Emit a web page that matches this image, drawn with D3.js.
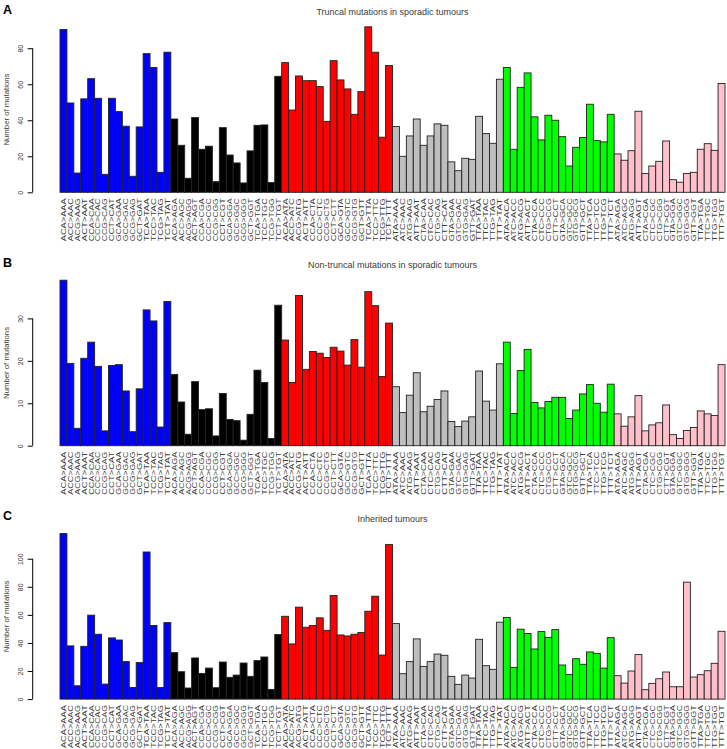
<!DOCTYPE html>
<html>
<head>
<meta charset="utf-8">
<script src="https://cdn.jsdelivr.net/npm/d3@7"></script>
<style>
  html, body { margin: 0; padding: 0; background: #fff; }
  svg { display: block; font-family: "Liberation Sans", Arial, sans-serif; }
</style>
</head>
<body>
<svg id="chart" width="727" height="749"></svg>
<script>
// ---- categories ----
const catCA = ["ACA>AAA","ACC>AAC","ACG>AAG","ACT>AAT","CCA>CAA","CCC>CAC","CCG>CAG","CCT>CAT","GCA>GAA","GCC>GAC","GCG>GAG","GCT>GAT","TCA>TAA","TCC>TAC","TCG>TAG","TCT>TAT"];
const catCG = ["ACA>AGA","ACC>AGC","ACG>AGG","ACT>AGT","CCA>CGA","CCC>CGC","CCG>CGG","CCT>CGT","GCA>GGA","GCC>GGC","GCG>GGG","GCT>GGT","TCA>TGA","TCC>TGC","TCG>TGG","TCT>TGT"];
const catCT = ["ACA>ATA","ACC>ATC","ACG>ATG","ACT>ATT","CCA>CTA","CCC>CTC","CCG>CTG","CCT>CTT","GCA>GTA","GCC>GTC","GCG>GTG","GCT>GTT","TCA>TTA","TCC>TTC","TCG>TTG","TCT>TTT"];
const catTA = ["ATA>AAA","ATC>AAC","ATG>AAG","ATT>AAT","CTA>CAA","CTC>CAC","CTG>CAG","CTT>CAT","GTA>GAA","GTC>GAC","GTG>GAG","GTT>GAT","TTA>TAA","TTC>TAC","TTG>TAG","TTT>TAT"];
const catTC = ["ATA>ACA","ATC>ACC","ATG>ACG","ATT>ACT","CTA>CCA","CTC>CCC","CTG>CCG","CTT>CCT","GTA>GCA","GTC>GCC","GTG>GCG","GTT>GCT","TTA>TCA","TTC>TCC","TTG>TCG","TTT>TCT"];
const catTG = ["ATA>AGA","ATC>AGC","ATG>AGG","ATT>AGT","CTA>CGA","CTC>CGC","CTG>CGG","CTT>CGT","GTA>GGA","GTC>GGC","GTG>GGG","GTT>GGT","TTA>TGA","TTC>TGC","TTG>TGG","TTT>TGT"];
const categories = [].concat(catCA, catCG, catCT, catTA, catTC, catTG);
const mutationTypes = ["C>A","C>G","C>T","T>A","T>C","T>G"];
const typeColors = ["#0000FF","#000000","#FF0000","#BEBEBE","#00FF00","#FFC0CB"];

// ---- series values ----
const truncal = [
  90.4, 49.6, 10.7, 51.9, 63.1, 52.2, 10.0, 52.2, 44.8, 36.7, 8.9, 36.3, 77.0, 69.3, 11.1, 77.8,
  40.7, 26.1, 7.8, 41.5, 23.9, 25.6, 5.9, 35.9, 20.7, 16.3, 5.2, 23.0, 37.2, 37.4, 5.4, 64.4,
  72.0, 45.7, 64.6, 62.0, 62.0, 58.7, 39.4, 73.1, 62.4, 57.4, 43.3, 55.9, 91.9, 77.8, 30.6, 70.4,
  36.5, 20.0, 31.3, 40.7, 26.1, 31.3, 38.0, 37.2, 16.9, 12.0, 18.9, 18.3, 42.2, 32.6, 27.2, 62.8,
  69.3, 23.9, 58.3, 66.3, 41.9, 29.1, 42.8, 40.0, 30.9, 14.6, 25.0, 30.4, 48.9, 28.7, 28.0, 43.3,
  21.3, 17.8, 23.1, 45.0, 10.4, 14.6, 17.2, 28.5, 7.0, 5.6, 10.4, 11.1, 23.9, 27.0, 23.3, 60.4
];
const nonTruncal = [
  39.0, 19.4, 4.1, 20.6, 24.4, 18.7, 3.5, 18.9, 19.1, 12.9, 3.3, 13.4, 32.0, 29.4, 4.4, 34.0,
  16.8, 10.3, 2.7, 15.1, 8.5, 8.7, 2.3, 12.3, 6.2, 5.9, 1.3, 7.4, 17.8, 14.9, 1.7, 33.1,
  24.9, 14.9, 35.4, 18.0, 22.2, 21.8, 20.8, 23.2, 22.3, 19.0, 25.0, 18.5, 36.3, 33.0, 16.3, 28.9,
  13.9, 7.8, 11.9, 17.2, 8.0, 9.3, 10.9, 12.9, 5.7, 4.5, 5.8, 6.8, 17.6, 10.5, 8.4, 19.3,
  24.4, 7.6, 17.7, 22.7, 10.2, 8.9, 10.4, 11.4, 11.4, 6.4, 8.4, 12.2, 14.4, 10.0, 7.9, 14.5,
  7.5, 4.6, 6.8, 11.8, 3.5, 4.9, 5.4, 9.6, 2.6, 1.7, 3.6, 4.3, 8.2, 7.5, 7.1, 19.1
];
const inherited = [
  117.9, 37.9, 9.5, 37.6, 59.8, 46.2, 10.7, 43.6, 42.1, 26.7, 8.3, 26.0, 104.8, 52.4, 8.3, 54.5,
  33.1, 19.5, 7.9, 29.3, 18.3, 22.1, 8.1, 26.4, 15.5, 17.1, 25.7, 16.2, 27.4, 30.0, 6.9, 46.0,
  59.0, 39.3, 65.5, 51.2, 52.4, 57.9, 49.0, 73.8, 45.7, 45.0, 46.2, 47.4, 62.6, 73.3, 31.4, 110.2,
  53.8, 18.1, 26.7, 42.9, 23.3, 26.7, 32.1, 31.2, 16.2, 10.5, 17.1, 15.0, 42.6, 23.8, 21.2, 54.8,
  58.1, 22.6, 49.8, 46.7, 35.7, 48.1, 44.0, 49.5, 24.3, 17.6, 28.8, 24.8, 33.6, 32.6, 22.1, 43.8,
  16.7, 11.4, 20.0, 31.7, 6.7, 11.2, 14.5, 19.3, 8.8, 8.8, 83.3, 15.7, 17.4, 20.2, 25.5, 48.3
];

// ---- tick labels / titles ----
const ticksA = [0, 20, 40, 60, 80];
const ticksB = [0, 10, 20, 30];
const ticksC = [0, 20, 40, 60, 80, 100];
const panelLetters = ["A", "B", "C"];
const panelTitles = ["Truncal mutations in sporadic tumours", "Non-truncal mutations in sporadic tumours", "Inherited tumours"];
const yTitle = "Number of mutations";

const panels = [
  { letter: panelLetters[0], title: panelTitles[0], values: truncal, ticks: ticksA },
  { letter: panelLetters[1], title: panelTitles[1], values: nonTruncal, ticks: ticksB },
  { letter: panelLetters[2], title: panelTitles[2], values: inherited, ticks: ticksC }
];

// ---- layout ----
const svg = d3.select("#chart");
const panelStep = 253.4;
const base0 = 192.3;
const plotH = 165.5;
const x0 = 60, x1 = 725;
const axisX = 32.7;
const textCol = "#3a3a3a";

const x = d3.scaleBand().domain(categories).range([x0, x1]).padding(0);
const typeOf = i => Math.floor(i / 16);

panels.forEach((p, pi) => {
  const base = base0 + pi * panelStep;
  const top = base - plotH;
  const y = d3.scaleLinear().domain([0, d3.max(p.values)]).range([base, top]);
  const g = svg.append("g");

  // letter
  g.append("text").attr("x", 3).attr("y", 13.5 + pi * panelStep)
    .attr("font-size", 12.5).attr("font-weight", "bold").attr("fill", "#000")
    .text(p.letter);

  // title
  g.append("text").attr("x", (x0 + x1) / 2).attr("y", 15 + pi * panelStep)
    .attr("text-anchor", "middle").attr("font-size", 9).attr("fill", textCol)
    .text(p.title);

  // bars
  g.selectAll("rect.bar").data(p.values).enter().append("rect")
    .attr("class", "bar")
    .attr("x", (d, i) => x(categories[i]))
    .attr("width", x.bandwidth())
    .attr("y", d => y(d))
    .attr("height", d => base - y(d))
    .attr("fill", (d, i) => typeColors[typeOf(i)])
    .attr("stroke", "#222")
    .attr("stroke-width", 0.9);

  // y axis
  const axis = d3.axisLeft(y).tickValues(p.ticks).tickSize(5).tickSizeOuter(0).tickFormat(d3.format("d"));
  const ag = g.append("g").attr("transform", `translate(${axisX},0)`).call(axis);
  ag.select(".domain").attr("d", `M0,${y(p.ticks[p.ticks.length - 1])}V${y(0)}`).attr("stroke", "#000");
  ag.selectAll(".tick line").attr("stroke", "#000");
  ag.selectAll(".tick text")
    .attr("x", null).attr("dy", null)
    .attr("text-anchor", "middle")
    .attr("transform", "translate(-10,0) rotate(-90)")
    .attr("font-size", 7).attr("fill", textCol)
    .attr("font-family", "Liberation Sans, Arial, sans-serif");

  // y title
  g.append("text")
    .attr("transform", `translate(8.5,${(base + top) / 2}) rotate(-90)`)
    .attr("text-anchor", "middle").attr("font-size", 7.5).attr("fill", textCol)
    .attr("textLength", 72).attr("lengthAdjust", "spacingAndGlyphs")
    .text(yTitle);

  // x labels
  g.selectAll("text.xl").data(categories).enter().append("text")
    .attr("class", "xl")
    .attr("transform", d => `translate(${x(d) + x.bandwidth() / 2 + 2.4},${base + 6}) rotate(-90)`)
    .attr("text-anchor", "end")
    .attr("font-size", 6.6)
    .attr("fill", textCol)
    .attr("textLength", 43)
    .attr("lengthAdjust", "spacingAndGlyphs")
    .text(d => d);
});
</script>
</body>
</html>
